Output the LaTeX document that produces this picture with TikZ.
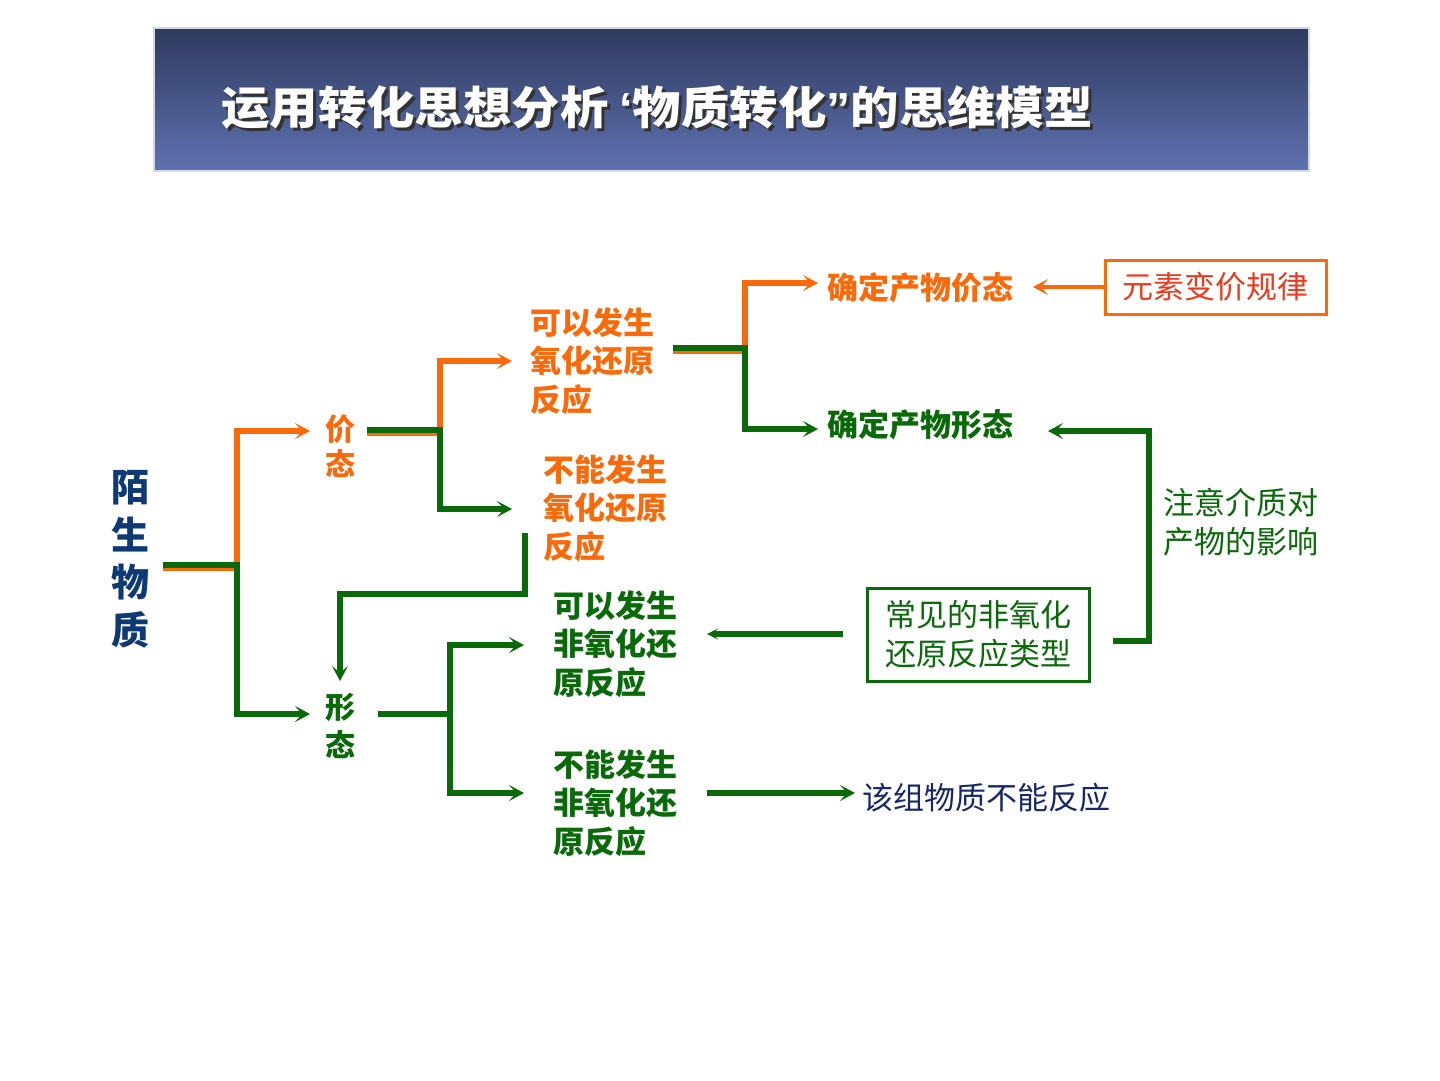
\documentclass[tikz,border=0pt]{standalone}
\usepackage{fontspec}
\newfontfamily\cjk{Noto Sans CJK SC}
\newfontfamily\lat{Liberation Sans}
\usetikzlibrary{arrows.meta}
\definecolor{org}{HTML}{FA6A0A}
\definecolor{grn}{HTML}{0A6A0A}
\definecolor{dblue}{HTML}{0E3A73}
\definecolor{navy}{HTML}{16286A}
\definecolor{rred}{HTML}{EE3A1C}
\definecolor{ttop}{HTML}{2F3A5E}
\definecolor{tbot}{HTML}{5F71B1}
\definecolor{tbord}{HTML}{D4D8E0}
\newcommand{\titletext}{\scalebox{1.075}[1]{运用转化思想分析 {\lat\bfseries ‘}物质转化{\lat\bfseries ”}的思维模型}}
\begin{document}
\begin{tikzpicture}[x=1pt,y=-1pt,
  bigtip/.style={-{Stealth[length=15pt,width=16pt,inset=7pt]}},
  lefttip/.style={-{Stealth[length=15pt,width=16pt,inset=7pt]}},
  smalltip/.style={-{Stealth[length=11pt,width=11pt,inset=5pt]}},
  oline/.style={draw=org, line width=5.5pt},
  gline/.style={draw=grn, line width=5.5pt},
  btext/.style={inner sep=0pt, font=\cjk\bfseries\fontsize{31}{38.5}\selectfont, align=left},
  ntext/.style={inner sep=0pt, font=\cjk\fontsize{31}{39}\selectfont, align=left},
  ttl/.style={inner sep=0pt, font=\cjk\bfseries\fontsize{45}{45}\selectfont},
]
\useasboundingbox[fill=white] (0,0) rectangle (1440,1080);

% title
\path[top color=ttop, bottom color=tbot, draw=tbord, line width=2.5pt] (154,28) rectangle (1309,171);
\node[ttl, text=black!80] (tshadow) at (660,110) {\titletext};
\node[ttl, text=white] (title) at (657,107) {\titletext};

% nodes
\node[inner sep=0pt, font=\cjk\bfseries\fontsize{38}{47.5}\selectfont, align=center, text=dblue] (ms) at (130,559) {陌\\生\\物\\质};
\node[inner sep=0pt, font=\cjk\bfseries\fontsize{30}{35}\selectfont, align=center, text=org] (jt) at (340,446) {价\\态};
\node[inner sep=0pt, font=\cjk\bfseries\fontsize{30}{38}\selectfont, align=center, text=grn] (xt) at (340,726) {形\\态};
\node[btext, anchor=west, text=org] (ox1) at (530,361) {可以发生\\氧化还原\\反应};
\node[btext, anchor=west, text=org] (ox2) at (543,508) {不能发生\\氧化还原\\反应};
\node[btext, anchor=west, text=grn] (nox1) at (553,644) {可以发生\\非氧化还\\原反应};
\node[btext, anchor=west, text=grn] (nox2) at (553,803) {不能发生\\非氧化还\\原反应};
\node[btext, anchor=west, text=org] (d1) at (827,288) {确定产物价态};
\node[btext, anchor=west, text=grn] (d2) at (827,425) {确定产物形态};
\node[ntext, draw=org, line width=3pt, minimum width=221pt, minimum height=54pt, text=rred, align=center] (rule) at (1215.5,287) {元素变价规律};
\node[ntext, draw=grn, line width=3pt, minimum width=222pt, minimum height=93pt, text=grn, align=center] (nt) at (978,634.5) {常见的非氧化\\还原反应类型};
\node[ntext, anchor=west, text=grn] (med) at (1163,522) {注意介质对\\产物的影响};
\node[ntext, anchor=west, text=navy] (nr) at (862,798) {该组物质不能反应};

% junction coordinates
\coordinate (s0) at (163,566);
\coordinate (j0) at (237,566);
\coordinate (a0) at (310,431);
\coordinate (b0) at (310,714);
\coordinate (s1) at (367,431);
\coordinate (j1) at (440,431);
\coordinate (a1) at (512,361);
\coordinate (b1) at (512,509);
\coordinate (s2) at (673,349);
\coordinate (j2) at (745,349);
\coordinate (a2) at (818,283);
\coordinate (b2) at (818,429);
\coordinate (s3) at (378,714);
\coordinate (j3) at (450,714);
\coordinate (a3) at (524,645);
\coordinate (b3) at (524,793);
\coordinate (r0) at (1033,287);
\coordinate (x0) at (525,533);
\coordinate (x1) at (525,594);
\coordinate (x2) at (340,594);
\coordinate (x3) at (340,681);
\coordinate (m0) at (1113,641);
\coordinate (m1) at (1149,641);
\coordinate (m2) at (1149,431);
\coordinate (m3) at (1048,431);
\coordinate (n0) at (843,634);
\coordinate (n1) at (707,634);
\coordinate (p0) at (707,793);
\coordinate (p1) at (855,793);

% from 陌生物质
\draw[oline, bigtip] ([yshift=-2pt]s0) -- ([yshift=-2pt]j0) -- (j0 |- a0) -- (a0);
\draw[gline, bigtip] ([yshift=1pt]s0) -- ([yshift=1pt]j0) -- (j0 |- b0) -- (b0);
% from 价态
\draw[oline, bigtip] ([yshift=-2pt]s1) -- ([yshift=-2pt]j1) -- (j1 |- a1) -- (a1);
\draw[gline, bigtip] ([yshift=1pt]s1) -- ([yshift=1pt]j1) -- (j1 |- b1) -- (b1);
% from 可以发生氧化还原反应
\draw[oline, bigtip] ([yshift=-2pt]s2) -- ([yshift=-2pt]j2) -- (j2 |- a2) -- (a2);
\draw[gline, bigtip] ([yshift=1pt]s2) -- ([yshift=1pt]j2) -- (j2 |- b2) -- (b2);
% from 形态
\draw[gline] (s3) -- (j3);
\draw[gline, bigtip] (j3) -- (j3 |- a3) -- (a3);
\draw[gline, bigtip] (j3) -- (j3 |- b3) -- (b3);
% rule -> 确定产物价态
\draw[draw=org, line width=4.5pt, lefttip] (rule.west) -- (r0);
% 不能发生氧化还原反应 -> 形态
\draw[gline, bigtip] (x0) -- (x1) -- (x2) -- (x3);
% type box -> 确定产物形态
\draw[gline, lefttip] (m0) -- (m1) -- (m2) -- (m3);
% type box -> 可以发生非氧化还原反应
\draw[gline, smalltip] (n0) -- (n1);
% 不能发生非氧化还原反应 -> 该组物质不能反应
\draw[gline, bigtip] (p0) -- (p1);
\end{tikzpicture}
\end{document}
